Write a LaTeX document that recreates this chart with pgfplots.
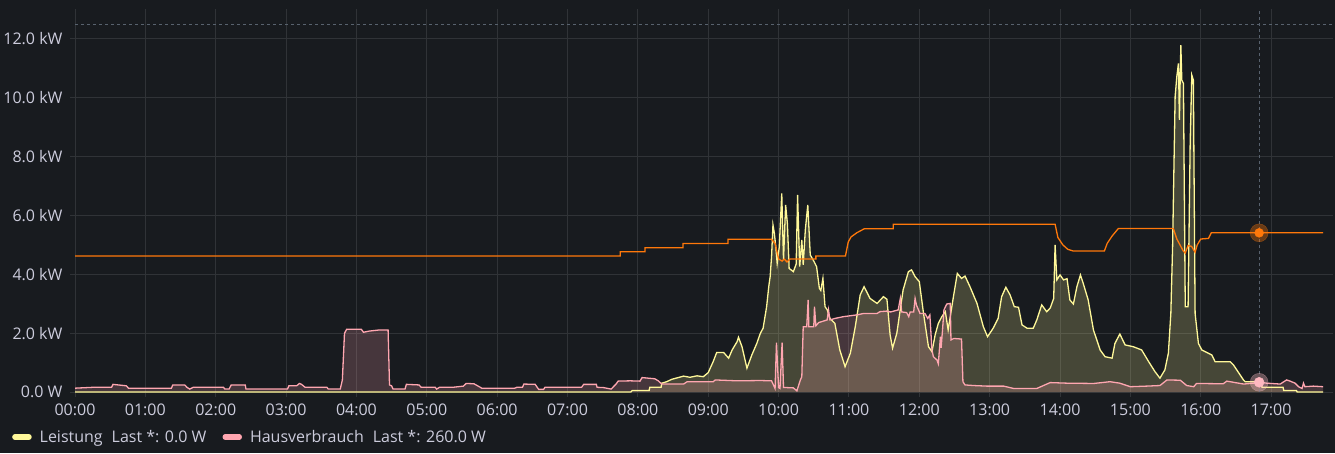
\documentclass[border=0pt]{standalone}
\usepackage{pgfplots}
\pgfplotsset{compat=1.18}
\usepackage{pgfplotstable}
\usepackage{fontspec}
\setmainfont{Open Sans}

\definecolor{bg}{RGB}{24,27,31}
\definecolor{gridc}{RGB}{48,51,55}
\definecolor{tc}{RGB}{204,204,220}
\definecolor{yl}{RGB}{255,248,153}
\definecolor{pk}{RGB}{255,166,176}
\definecolor{og}{RGB}{255,120,10}
\definecolor{dashc}{RGB}{88,98,110}

% Leistung (kW over hours)
\pgfplotstableread{
x y
0 0
7.90 0
7.92 0.05
8.16 0.05
8.17 0.16
8.33 0.16
8.34 0.30
8.41 0.35
8.48 0.43
8.65 0.54
8.74 0.50
8.84 0.55
8.93 0.52
9.00 0.66
9.07 1.03
9.12 1.34
9.22 1.34
9.29 1.15
9.34 1.43
9.41 1.71
9.43 1.86
9.48 1.54
9.55 0.81
9.62 1.26
9.69 1.65
9.74 1.99
9.78 2.17
9.83 2.90
9.86 3.58
9.88 3.92
9.90 4.60
9.92 5.68
9.94 5.39
9.96 4.94
9.98 4.37
10.01 4.94
10.045 6.75
10.07 4.49
10.10 6.36
10.125 5.73
10.15 4.20
10.21 4.09
10.25 4.35
10.27 6.70
10.30 4.26
10.33 5.17
10.35 4.32
10.38 5.51
10.415 6.36
10.45 4.66
10.50 4.45
10.54 4.26
10.58 3.52
10.60 3.45
10.63 3.86
10.66 2.90
10.69 2.80
10.73 2.50
10.80 2.33
10.87 1.43
10.945 0.86
11.02 1.32
11.09 2.22
11.16 3.30
11.215 3.58
11.30 3.18
11.40 3.01
11.49 3.24
11.54 3.15
11.585 1.94
11.62 1.49
11.68 1.99
11.77 3.47
11.845 4.09
11.89 4.15
11.94 3.92
12.00 3.75
12.06 2.67
12.13 1.54
12.18 1.37
12.225 1.94
12.27 2.33
12.32 2.56
12.37 2.73
12.41 2.11
12.485 3.24
12.54 4.03
12.60 3.86
12.65 3.94
12.72 3.58
12.82 3.01
12.91 2.22
12.97 1.88
13.05 2.17
13.12 2.50
13.17 3.24
13.23 3.56
13.29 3.30
13.35 2.90
13.41 2.88
13.46 2.28
13.53 2.17
13.62 2.17
13.67 2.45
13.74 2.96
13.81 2.73
13.86 2.85
13.91 3.18
13.93 5.00
13.955 3.81
14.00 3.98
14.05 3.81
14.10 3.85
14.14 3.13
14.19 2.99
14.24 3.58
14.29 3.98
14.33 3.69
14.40 3.13
14.475 2.11
14.57 1.43
14.64 1.20
14.74 1.15
14.78 1.65
14.85 1.97
14.925 1.60
15.04 1.54
15.16 1.43
15.26 1.03
15.35 0.69
15.42 0.47
15.49 0.75
15.54 1.32
15.575 2.67
15.60 4.94
15.636 10.04
15.66 10.72
15.683 11.17
15.697 9.25
15.717 11.79
15.731 10.60
15.754 10.49
15.78 2.90
15.82 2.90
15.85 8.50
15.873 10.77
15.895 10.60
15.92 2.67
15.967 1.65
16.015 1.43
16.157 1.26
16.204 1.03
16.418 1.03
16.465 0.92
16.607 0.41
16.631 0.35
16.86 0.35
16.87 0.16
17.17 0.16
17.18 0.05
17.36 0.05
17.37 0
17.74 0
}\leistung

% Hausverbrauch
\pgfplotstableread{
x y
0 0.13
0.26 0.16
0.52 0.16
0.54 0.26
0.73 0.21
0.76 0.13
1.37 0.13
1.39 0.24
1.56 0.24
1.59 0.16
1.63 0.10
1.68 0.16
2.11 0.16
2.13 0.10
2.19 0.10
2.22 0.24
2.42 0.24
2.43 0.10
3.02 0.10
3.04 0.21
3.15 0.21
3.19 0.29
3.22 0.26
3.27 0.16
3.58 0.16
3.60 0.10
3.77 0.10
3.80 0.41
3.83 1.99
3.86 2.13
4.07 2.13
4.10 2.03
4.18 2.07
4.33 2.11
4.45 2.11
4.47 0.24
4.50 0.21
4.52 0.10
4.69 0.10
4.71 0.26
4.89 0.24
4.92 0.16
5.12 0.16
5.14 0.10
5.18 0.16
5.37 0.16
5.52 0.20
5.56 0.29
5.67 0.28
5.76 0.16
5.78 0.13
6.25 0.13
6.28 0.16
6.36 0.16
6.38 0.27
6.54 0.26
6.59 0.09
6.66 0.09
6.68 0.16
7.20 0.16
7.23 0.26
7.41 0.26
7.42 0.16
7.51 0.15
7.62 0.10
7.69 0.27
7.72 0.37
7.89 0.38
8.03 0.37
8.06 0.49
8.24 0.45
8.29 0.38
8.34 0.27
8.65 0.27
8.70 0.35
9.07 0.35
9.10 0.41
9.41 0.38
9.74 0.39
9.90 0.38
9.95 0.12
9.97 1.68
10.00 0.15
10.02 0.12
10.05 1.68
10.07 0.15
10.12 0.15
10.21 0.14
10.26 0.04
10.31 0.41
10.33 0.52
10.35 2.22
10.40 2.22
10.42 3.13
10.43 2.22
10.50 2.22
10.51 2.90
10.53 2.25
10.57 2.36
10.69 2.45
10.71 2.79
10.73 2.45
10.80 2.50
10.92 2.56
11.11 2.62
11.21 2.67
11.40 2.67
11.44 2.73
11.54 2.75
11.59 2.72
11.70 2.79
11.73 3.18
11.75 2.72
11.82 2.70
11.85 2.56
11.87 2.72
11.92 2.72
11.94 3.18
11.96 2.95
12.01 2.67
12.08 2.67
12.12 2.50
12.15 2.62
12.18 1.43
12.20 1.20
12.25 1.09
12.27 0.96
12.30 1.88
12.31 1.50
12.33 2.11
12.35 2.79
12.39 2.99
12.44 3.01
12.45 1.77
12.49 1.82
12.60 1.80
12.62 0.35
12.65 0.24
12.77 0.22
12.96 0.20
13.20 0.20
13.34 0.12
13.67 0.12
13.86 0.32
14.10 0.30
14.48 0.29
14.71 0.35
14.85 0.30
15.00 0.18
15.23 0.20
15.42 0.22
15.52 0.41
15.71 0.40
15.80 0.22
15.90 0.18
15.94 0.29
16.32 0.28
16.37 0.37
16.61 0.27
16.75 0.30
16.83 0.33
16.94 0.30
17.13 0.27
17.22 0.41
17.27 0.37
17.34 0.30
17.39 0.18
17.44 0.12
17.46 0.30
17.48 0.18
17.60 0.20
17.74 0.18
}\haus

% orange series (no legend)
\pgfplotstableread{
x y
0 4.62
7.75 4.62
7.75 4.77
8.10 4.77
8.10 4.90
8.64 4.90
8.64 5.05
9.28 5.05
9.28 5.19
9.90 5.19
9.95 5.05
10.00 4.52
10.05 4.45
10.08 4.52
10.12 4.42
10.16 4.52
10.53 4.52
10.53 4.62
10.95 4.62
10.99 5.10
11.03 5.27
11.11 5.41
11.22 5.55
11.63 5.55
11.63 5.70
13.93 5.70
13.97 5.25
14.04 5.00
14.11 4.85
14.19 4.79
14.63 4.79
14.67 5.05
14.74 5.30
14.83 5.56
15.61 5.56
15.66 5.20
15.75 4.80
15.78 4.72
15.82 4.98
15.87 4.95
15.92 4.75
15.95 5.00
16.00 5.20
16.11 5.22
16.15 5.41
17.74 5.41
}\ziel

\begin{document}
\begin{tikzpicture}
\useasboundingbox (0,0) rectangle (1335pt,453pt);
\fill[bg] (0,0) rectangle (1335pt,453pt);
\begin{axis}[
    at={(75pt,61pt)}, anchor=south west,
    scale only axis,
    width=1258pt, height=382.5pt,
    xmin=0, xmax=17.88, ymin=0, ymax=13,
    axis line style={draw=none},
    grid=major,
    major grid style={gridc, line width=1pt},
    tick style={gridc, line width=1pt},
    tick pos=left,
    tick align=outside,
    major tick length=5pt,
    xtick={0,1,...,17},
    xticklabels={00:00,01:00,02:00,03:00,04:00,05:00,06:00,07:00,08:00,09:00,10:00,11:00,12:00,13:00,14:00,15:00,16:00,17:00},
    ytick={0,2,4,6,8,10,12},
    yticklabels={0.0 W,2.0 kW,4.0 kW,6.0 kW,8.0 kW,10.0 kW,12.0 kW},
    ticklabel style={font=\fontsize{16}{18}\selectfont, text=tc},
    yticklabel style={xshift=-4pt},
    xticklabel style={yshift=-3pt},
    legend style={at={(rel axis cs:0,0)}, xshift=-63pt, yshift=-45pt,
        anchor=west, draw=none, fill=none, text=tc, inner sep=0pt,
        font=\fontsize{16}{18}\selectfont,
        /tikz/every odd column/.append style={column sep=6pt},
        /tikz/every even column/.append style={column sep=14pt}},
    legend columns=2,
    legend image code/.code={\draw[line width=5.5pt, line cap=round] (3pt,0pt) -- (17pt,0pt);},
]
\draw[dashc, line width=1pt, dash pattern=on 3pt off 3pt] (axis cs:0,12.5) -- (axis cs:17.88,12.5);

\addplot[fill=yl, fill opacity=0.2, draw=none, forget plot] table {\leistung} \closedcycle;
\addplot[fill=pk, fill opacity=0.2, draw=none, forget plot] table {\haus} \closedcycle;

\addplot[yl, line width=1.3pt] table {\leistung};
\addlegendentry{Leistung\hspace{9pt}Last *: 0.0 W}
\addplot[pk, line width=1.3pt] table {\haus};
\addlegendentry{Hausverbrauch\hspace{9pt}Last *: 260.0 W}
\addplot[og, line width=1.3pt, forget plot] table {\ziel};

\draw[dashc, line width=1pt, dash pattern=on 3pt off 3pt] (axis cs:16.83,0) -- (axis cs:16.83,13);

\addplot[only marks, mark=*, mark size=9pt, og, opacity=0.35, forget plot] coordinates {(16.83,5.41)};
\addplot[only marks, mark=*, mark size=4.5pt, og, forget plot] coordinates {(16.83,5.41)};
\addplot[only marks, mark=*, mark size=9pt, pk!70!white, opacity=0.35, forget plot] coordinates {(16.83,0.33)};
\addplot[only marks, mark=*, mark size=5pt, pk!80!white, forget plot] coordinates {(16.83,0.33)};
\end{axis}
\end{tikzpicture}
\end{document}
